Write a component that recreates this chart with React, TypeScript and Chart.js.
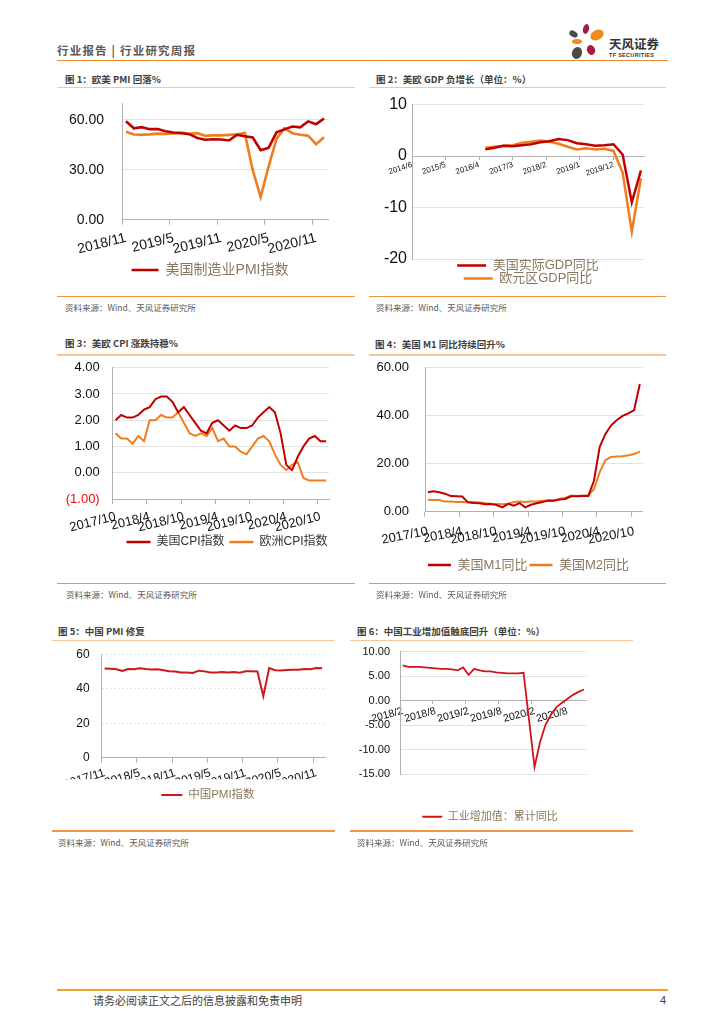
import React, { useEffect, useRef } from 'react';
import { Chart, registerables } from 'chart.js';

Chart.register(...registerables);

// ---------------- data ----------------
const PMI_MONTHS = ['2018/11','2018/12','2019/1','2019/2','2019/3','2019/4','2019/5','2019/6','2019/7','2019/8','2019/9','2019/10','2019/11','2019/12','2020/1','2020/2','2020/3','2020/4','2020/5','2020/6','2020/7','2020/8','2020/9','2020/10','2020/11','2020/12'];
const US_PMI = [59.0,54.8,55.5,54.3,54.4,53.0,52.3,51.9,51.3,49.0,48.0,48.3,48.1,47.5,50.9,50.1,49.3,41.7,43.1,52.4,54.2,55.9,55.4,59.0,57.3,60.7];
const EZ_PMI = [52.7,51.1,51.0,51.2,51.6,51.5,51.8,52.2,51.5,51.9,50.4,50.6,50.6,50.9,51.3,52.0,29.7,13.6,31.9,48.5,54.9,51.9,51.0,50.4,45.3,49.4];

const GDP_TICK_LABELS = ['2014/6','2015/5','2016/4','2017/3','2018/2','2019/1','2019/12'];
const GDP_QUARTERS = ['2016/6','2016/9','2016/12','2017/3','2017/6','2017/9','2017/12','2018/3','2018/6','2018/9','2018/12','2019/3','2019/6','2019/9','2019/12','2020/3','2020/6','2020/9'];
const US_GDP = [1.3,1.6,2.0,1.9,2.1,2.3,2.7,2.9,3.3,3.1,2.5,2.3,2.0,2.1,2.3,0.3,-9.0,-2.8];
const EZ_GDP = [1.6,1.8,2.0,2.1,2.6,2.8,3.0,2.8,2.4,1.8,1.3,1.5,1.3,1.4,1.0,-3.2,-14.7,-4.3];

const MONTHS_1710 = ['2017/10','2017/11','2017/12','2018/1','2018/2','2018/3','2018/4','2018/5','2018/6','2018/7','2018/8','2018/9','2018/10','2018/11','2018/12','2019/1','2019/2','2019/3','2019/4','2019/5','2019/6','2019/7','2019/8','2019/9','2019/10','2019/11','2019/12','2020/1','2020/2','2020/3','2020/4','2020/5','2020/6','2020/7','2020/8','2020/9','2020/10','2020/11'];
const US_CPI = [2.0,2.2,2.1,2.1,2.2,2.4,2.5,2.8,2.9,2.9,2.7,2.3,2.5,2.2,1.9,1.6,1.5,1.9,2.0,1.8,1.6,1.8,1.7,1.7,1.8,2.1,2.3,2.5,2.3,1.5,0.3,0.1,0.6,1.0,1.3,1.4,1.2,1.2];
const EU_CPI = [1.5,1.3,1.3,1.1,1.4,1.2,2.0,2.0,2.2,2.1,2.1,2.3,1.9,1.5,1.4,1.5,1.4,1.7,1.2,1.3,1.0,1.0,0.8,0.7,1.0,1.3,1.4,1.2,0.7,0.3,0.1,0.3,0.4,-0.2,-0.3,-0.3,-0.3,-0.3];
const US_M1 = [8.1,8.5,8.1,7.5,6.5,6.4,6.3,3.9,3.6,3.5,3.1,3.2,2.8,1.8,3.3,2.5,3.6,1.8,2.9,3.5,4.0,4.7,4.6,5.1,5.3,6.4,6.4,6.5,6.5,13.0,27.0,32.4,36.0,38.2,39.9,41.0,42.3,53.2];
const US_M2 = [5.0,4.9,4.9,4.2,4.2,4.0,4.0,3.9,4.0,3.8,3.5,3.3,3.2,3.1,3.3,4.0,4.2,4.0,4.2,4.3,4.6,4.7,4.7,5.3,5.8,6.7,6.5,6.7,6.7,9.5,16.5,21.5,22.8,23.0,23.1,23.5,24.0,25.0];

const CN_PMI_MONTHS = ['2017/11','2017/12','2018/1','2018/2','2018/3','2018/4','2018/5','2018/6','2018/7','2018/8','2018/9','2018/10','2018/11','2018/12','2019/1','2019/2','2019/3','2019/4','2019/5','2019/6','2019/7','2019/8','2019/9','2019/10','2019/11','2019/12','2020/1','2020/2','2020/3','2020/4','2020/5','2020/6','2020/7','2020/8','2020/9','2020/10','2020/11','2020/12'];
const CN_PMI = [51.8,51.6,51.3,50.3,51.5,51.4,51.9,51.5,51.2,51.3,50.8,50.2,50.0,49.4,49.5,49.2,50.5,50.1,49.4,49.4,49.7,49.5,49.8,49.3,50.2,50.2,50.0,35.7,52.0,50.8,50.6,50.9,51.1,51.0,51.5,51.4,52.1,51.9];

const IVA_MONTHS = ['2018/2','2018/3','2018/4','2018/5','2018/6','2018/7','2018/8','2018/9','2018/10','2018/11','2018/12','2019/1','2019/2','2019/3','2019/4','2019/5','2019/6','2019/7','2019/8','2019/9','2019/10','2019/11','2019/12','2020/1','2020/2','2020/3','2020/4','2020/5','2020/6','2020/7','2020/8','2020/9','2020/10','2020/11'];
const CN_IVA = [7.2,6.9,6.9,6.9,6.8,6.7,6.6,6.5,6.5,6.4,6.2,6.8,5.3,6.5,6.2,6.0,6.0,5.8,5.7,5.6,5.6,5.6,5.7,null,-13.5,-8.4,-4.9,-2.8,-1.3,-0.4,0.4,1.2,1.8,2.3];

// ---------------- styles ----------------
const FONT = "'Liberation Sans', 'Noto Sans CJK SC', sans-serif";
const CJK = "'Noto Sans CJK SC', 'Liberation Sans', sans-serif";
const RED = '#c00000';
const RED2 = '#d0161b';
const ORANGE = '#ee7d1f';
const GRID = '#e2e2e2';
const AXIS = '#b0b0b0';
const TAN = '#8a7760';
const CLEAR = 'rgba(0,0,0,0)';

const genLabels = (chart: any) =>
  Chart.defaults.plugins.legend.labels.generateLabels(chart).map((l: any) => ({ ...l, fillStyle: l.strokeStyle, lineWidth: 0 }));

const line = (label: string, data: any[], color: string, width: number) => ({
  label, data, borderColor: color, backgroundColor: color, borderWidth: width,
  pointRadius: 0, pointHoverRadius: 0, tension: 0, fill: false, spanGaps: true,
  xAxisID: 'x', yAxisID: 'y',
});

function catX(labels: string[], o: { font: number; rot: number; pad: number; tick: number; h?: number; pos?: any }) {
  return {
    type: 'category',
    offset: true,
    position: o.pos ?? 'bottom',
    border: { color: AXIS, width: 1 },
    grid: {
      offset: true, drawOnChartArea: false, drawTicks: true, tickLength: o.tick,
      color: (c: any) => (c.index !== undefined && c.index % 6 === 0 ? AXIS : CLEAR),
    },
    ticks: {
      autoSkip: false, minRotation: o.rot, maxRotation: o.rot, padding: o.pad, color: '#111',
      font: { family: FONT, size: o.font },
      callback: (_v: any, i: number) => (i % 6 === 0 ? labels[i] : ''),
    },
    afterFit: (s: any) => { if (o.h !== undefined) s.height = o.h; },
  };
}

// gap = horizontal distance between label end and the axis line (drawn as an invisible tick)
function linY(o: { min: number; max: number; step: number; font: number; gap: number; w: number; fmt: (v: number) => string; hide: number; color?: any; dash?: number[] }) {
  return {
    type: 'linear', min: o.min, max: o.max,
    border: { color: AXIS, width: 1, dash: o.dash },
    grid: { drawTicks: true, tickLength: o.gap, tickColor: CLEAR, color: (c: any) => (c.tick && c.tick.value === o.hide ? CLEAR : GRID) },
    ticks: { stepSize: o.step, includeBounds: false, padding: 0, color: o.color ?? '#111', font: { family: FONT, size: o.font }, callback: (v: any) => o.fmt(Number(v)) },
    afterFit: (s: any) => { s.width = o.w; },
  };
}

const gapAxis = (position: 'right' | 'bottom', size: number) => ({
  type: 'linear', position, display: true,
  grid: { display: false, drawTicks: false }, border: { display: false }, ticks: { display: false },
  afterFit: (s: any) => { if (position === 'right') s.width = size; else s.height = size; },
});

function legend(o: { font: number; box: number; boxH: number; pad: number; color: string; fullSize?: boolean; filter?: any }) {
  return {
    position: 'bottom', fullSize: o.fullSize ?? true,
    labels: { boxWidth: o.box, boxHeight: o.boxH, padding: o.pad, color: o.color, font: { family: FONT, size: o.font }, generateLabels: genLabels, filter: o.filter },
  };
}

const base = (padding: any, leg: any) => ({
  responsive: false, animation: false, events: [],
  layout: { padding },
  plugins: { tooltip: { enabled: false }, legend: leg },
});

// ---------------- chart configs ----------------
const cfg1 = () => ({
  type: 'line',
  data: { labels: PMI_MONTHS, datasets: [line('美国制造业PMI指数', US_PMI, RED, 2.6), line('欧元区综合PMI', EZ_PMI, ORANGE, 2.6)] },
  options: {
    ...base({ top: 11, bottom: 5, left: 0, right: 0 }, legend({ font: 14, box: 27, boxH: 2.5, pad: 10, color: TAN, filter: (i: any) => i.datasetIndex === 0 })),
    scales: {
      x: catX(PMI_MONTHS, { font: 14, rot: 14, pad: 5, tick: 5, h: 33.3 }),
      y: linY({ min: 0, max: 70, step: 30, font: 14, gap: 18, w: 65, fmt: (v) => v.toFixed(2), hide: 0 }),
      gapR: gapAxis('right', 35),
    },
  },
});

const monthIndex = (s: string) => { const [y, m] = s.split('/').map(Number); return (y - 2014) * 12 + (m - 6); };

const cfg2 = () => ({
  type: 'line',
  data: {
    datasets: [
      line('美国实际GDP同比', GDP_QUARTERS.map((q, i) => ({ x: monthIndex(q), y: US_GDP[i] })), RED, 2.5),
      line('欧元区GDP同比', GDP_QUARTERS.map((q, i) => ({ x: monthIndex(q), y: EZ_GDP[i] })), ORANGE, 2.5),
    ],
  },
  options: {
    ...base({ top: 9, bottom: 0, left: 0, right: 24 }, legend({ font: 13, box: 29, boxH: 2.5, pad: 0, color: TAN, fullSize: false })),
    scales: {
      x: {
        type: 'linear', min: 0, max: 76, position: { y: 0 },
        border: { color: AXIS, width: 1 },
        grid: { drawOnChartArea: false, drawTicks: true, tickLength: 3, color: AXIS },
        ticks: {
          stepSize: 11, includeBounds: false, autoSkip: false, minRotation: 18, maxRotation: 18, padding: 1, color: '#111',
          font: { family: FONT, size: 8 },
          callback: (v: any) => GDP_TICK_LABELS[Math.round(Number(v) / 11)] ?? '',
        },
      },
      y: linY({ min: -20, max: 10, step: 10, font: 16, gap: 5, w: 44, fmt: (v) => String(v), hide: 0 }),
    },
  },
});

const cfg3 = () => ({
  type: 'line',
  data: { labels: MONTHS_1710, datasets: [line('美国CPI指数', US_CPI, RED, 2), line('欧洲CPI指数', EU_CPI, ORANGE, 2)] },
  options: {
    ...base({ top: 9.7, bottom: 0, left: 0, right: 0 }, legend({ font: 12, box: 24, boxH: 2.5, pad: 5, color: '#333' })),
    scales: {
      x: catX(MONTHS_1710, { font: 13, rot: 14, pad: 5, tick: 5, h: 32 }),
      y: linY({
        min: -1, max: 4, step: 1, font: 13, gap: 13, w: 55.7, hide: -1,
        fmt: (v) => (v < 0 ? `(${Math.abs(v).toFixed(2)})` : v.toFixed(2)),
        color: (c: any) => (c.tick && c.tick.value < 0 ? '#ff0000' : '#111'),
      }),
      gapR: gapAxis('right', 68),
    },
  },
});

const cfg4 = () => ({
  type: 'line',
  data: { labels: MONTHS_1710, datasets: [line('美国M1同比', US_M1, RED, 2), line('美国M2同比', US_M2, ORANGE, 2)] },
  options: {
    ...base({ top: 9.7, bottom: 0.5, left: 0, right: 0 }, legend({ font: 13, box: 23, boxH: 2.5, pad: 2, color: TAN })),
    scales: {
      x: catX(MONTHS_1710, { font: 13, rot: 11, pad: 7, tick: 5, h: 44.8 }),
      y: linY({ min: 0, max: 60, step: 20, font: 13, gap: 16, w: 56, fmt: (v) => v.toFixed(2), hide: 0 }),
      gapR: gapAxis('right', 45.3),
    },
  },
});

const cfg5 = () => ({
  type: 'line',
  data: { labels: CN_PMI_MONTHS, datasets: [line('中国PMI指数', CN_PMI, RED2, 2)] },
  options: {
    ...base({ top: 9.3, bottom: 0.25, left: 0, right: 0 }, legend({ font: 11.5, box: 21, boxH: 2, pad: 10, color: TAN })),
    scales: {
      x: catX(CN_PMI_MONTHS, { font: 12, rot: 17, pad: 3, tick: 5, h: 21.5 }),
      y: linY({ min: 0, max: 60, step: 20, font: 12, gap: 12, w: 49.7, fmt: (v) => String(v), hide: 0, dash: [2, 2] }),
      gapR: gapAxis('right', 39),
    },
  },
});

const cfg6 = () => ({
  type: 'line',
  data: { labels: IVA_MONTHS, datasets: [line('工业增加值：累计同比', CN_IVA, RED2, 1.8)] },
  options: {
    ...base({ top: 6.7, bottom: 0.8, left: 0, right: 0 }, legend({ font: 11, box: 20, boxH: 2, pad: 10, color: TAN })),
    scales: {
      x: catX(IVA_MONTHS, { font: 10.5, rot: 15, pad: 1, tick: 3, pos: { y: 0 } }),
      y: linY({ min: -15, max: 10, step: 5, font: 11, gap: 10, w: 50, fmt: (v) => v.toFixed(2), hide: 0 }),
      gapR: gapAxis('right', 43.3),
      gapB: gapAxis('bottom', 26.9),
    },
  },
});

// ---------------- components ----------------
function ChartBox({ left, top, width, height, make }: { left: number; top: number; width: number; height: number; make: () => any }) {
  const ref = useRef<HTMLCanvasElement>(null);
  useEffect(() => {
    const chart = new Chart(ref.current as HTMLCanvasElement, make());
    return () => chart.destroy();
  }, []);
  return <canvas ref={ref} width={width} height={height} style={{ position: 'absolute', left, top, width, height }} />;
}

function T({ x, y, size, children, bold, color, family, spacing }: any) {
  return (
    <div style={{ position: 'absolute', left: x, top: y - size * 0.6, fontSize: size, lineHeight: `${size * 1.2}px`, fontWeight: bold ? 700 : 400, color: color ?? '#404040', whiteSpace: 'pre', fontFamily: family ?? CJK, letterSpacing: spacing ?? 0 }}>
      {children}
    </div>
  );
}

function HL({ x1, x2, y, color, h = 1.5 }: any) {
  return <div style={{ position: 'absolute', left: x1, top: y - h / 2, width: x2 - x1, height: h, background: color }} />;
}

function Petal({ cx, cy, w, h, rot, color }: any) {
  return <div style={{ position: 'absolute', left: cx - w / 2, top: cy - h / 2, width: w, height: h, borderRadius: '50%', background: color, transform: `rotate(${rot}deg)` }} />;
}

const TITLE_LINE = '#f7c79c';
const BOTTOM_LINE = '#ef9444';
const SRC = '资料来源：Wind、天风证券研究所';

export default function App() {
  return (
    <div style={{ position: 'absolute', left: 0, top: 0, width: 724, height: 1024, background: '#fff', overflow: 'hidden', fontFamily: CJK }}>
      {/* header */}
      <T x={57} y={50.5} size={11.5} bold color="#595959" spacing={1.2}>{'行业报告 | 行业研究周报'}</T>
      <HL x1={57} x2={668} y={60.5} color="#ec8a30" h={1.6} />
      <Petal cx={586} cy={28.5} w={6} h={10} rot={15} color="#a51d3d" />
      <Petal cx={573.5} cy={33.5} w={9} h={6} rot={30} color="#4b4b4b" />
      <Petal cx={597} cy={34.5} w={14} h={10} rot={-25} color="#ef8a1c" />
      <Petal cx={577} cy={41.5} w={10} h={5} rot={0} color="#ef8a1c" />
      <Petal cx={590.5} cy={49.5} w={8} h={10} rot={-20} color="#a51d3d" />
      <Petal cx={577} cy={52.5} w={10} h={12} rot={20} color="#4b4b4b" />
      <T x={609} y={43} size={12.5} bold color="#333">天风证券</T>
      <T x={609} y={55} size={5.5} bold color="#333" family={FONT} spacing={0.3}>TF SECURITIES</T>

      {/* chart 1 */}
      <T x={65} y={79.2} size={9.5} bold>图 1：欧美 PMI 回落%</T>
      <HL x1={57} x2={355} y={87.7} color={TITLE_LINE} />
      <ChartBox left={57} top={92} width={306} height={200} make={cfg1} />
      <HL x1={57} x2={355} y={296.7} color={BOTTOM_LINE} />
      <T x={65} y={306.7} size={8.5} color="#595959">{SRC}</T>

      {/* chart 2 */}
      <T x={376} y={79.2} size={9.5} bold>图 2：美欧 GDP 负增长（单位：%）</T>
      <HL x1={369} x2={666} y={87.7} color={TITLE_LINE} />
      <ChartBox left={368} top={95} width={300} height={200} make={cfg2} />
      <HL x1={369} x2={666} y={296.7} color={BOTTOM_LINE} />
      <T x={376} y={306.7} size={8.5} color="#595959">{SRC}</T>

      {/* chart 3 */}
      <T x={65} y={344} size={9.5} bold>图 3：美欧 CPI 涨跌持稳%</T>
      <HL x1={57} x2={355} y={355} color={TITLE_LINE} />
      <ChartBox left={57} top={358} width={340} height={200} make={cfg3} />
      <HL x1={57} x2={355} y={583.3} color={BOTTOM_LINE} />
      <T x={66} y={593.7} size={8.5} color="#595959">{SRC}</T>

      {/* chart 4 */}
      <T x={375} y={344.5} size={9.5} bold>图 4：美国 M1 同比持续回升%</T>
      <HL x1={369} x2={666} y={355} color={TITLE_LINE} />
      <ChartBox left={369} top={358} width={319} height={224} make={cfg4} />
      <HL x1={369} x2={666} y={583.3} color={BOTTOM_LINE} />
      <T x={376} y={593.7} size={8.5} color="#595959">{SRC}</T>

      {/* chart 5 */}
      <T x={58} y={631.3} size={9.5} bold>图 5：中国 PMI 修复</T>
      <HL x1={52} x2={335} y={640.7} color={TITLE_LINE} />
      <ChartBox left={52} top={645} width={312} height={166} make={cfg5} />
      <HL x1={52} x2={335} y={831} color={BOTTOM_LINE} />
      <T x={58} y={841.7} size={8.5} color="#595959">{SRC}</T>

      {/* chart 6 */}
      <T x={357} y={631.3} size={9.5} bold>图 6：中国工业增加值触底回升（单位：%）</T>
      <HL x1={350} x2={633} y={640.7} color={TITLE_LINE} />
      <ChartBox left={350} top={645} width={280} height={188} make={cfg6} />
      <HL x1={350} x2={633} y={831} color={BOTTOM_LINE} />
      <T x={357} y={841.7} size={8.5} color="#595959">{SRC}</T>

      {/* footer */}
      <HL x1={57} x2={668} y={989.5} color="#f0a030" h={2} />
      <T x={93} y={1001} size={11} color="#404040">请务必阅读正文之后的信息披露和免责申明</T>
      <T x={660} y={1001} size={11} color="#404040" family={FONT}>4</T>
    </div>
  );
}
